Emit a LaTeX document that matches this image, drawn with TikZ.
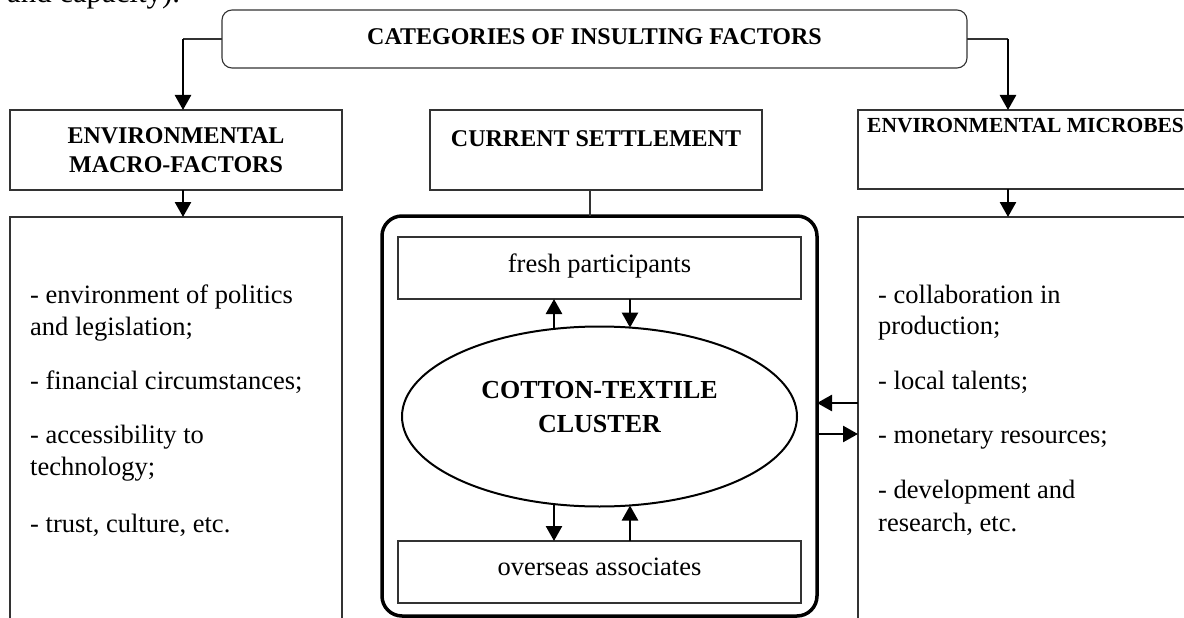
\documentclass[tikz,border=0pt]{standalone}
\usepackage{fontspec}
\setmainfont{Liberation Serif}
\usetikzlibrary{arrows.meta,shapes.geometric}
\begin{document}
\begin{tikzpicture}[x=1pt,y=-1pt,
  box/.style={draw=black!80,line width=1.1pt,inner sep=0pt,outer sep=0pt,rectangle},
  arr/.style={line width=2.6pt,-{Triangle[width=16pt,length=15pt]}},
  conn/.style={draw=black!80,line width=1.1pt},
  body/.style={font=\fontsize{26.5}{32}\selectfont,anchor=base west,inner sep=0pt},
  head/.style={font=\fontsize{24}{29}\selectfont\bfseries,anchor=base,inner sep=0pt},
  inner/.style={font=\fontsize{26.5}{32}\selectfont,anchor=base,inner sep=0pt},
  clhead/.style={font=\fontsize{26}{31}\selectfont\bfseries,anchor=base,inner sep=0pt},
]
\useasboundingbox (0,0) rectangle (1184,618);
\clip (0,0) rectangle (1184,618);

% cut-off line of running text above the figure
\node[font=\fontsize{30.8}{36}\selectfont,anchor=base west,inner sep=0pt] (prev) at (7,3) {and capacity).};

% top category box
\node[box,rounded corners=10pt,minimum width=745pt,minimum height=58pt] (top) at (594.5,39) {};
\node[head] (ttop) at (594.5,45) {CATEGORIES OF INSULTING FACTORS};

% second row
\node[box,minimum width=332pt,minimum height=80pt] (macro) at (176,150) {};
\node[head] (tmacro1) at (176,143) {ENVIRONMENTAL};
\node[head] (tmacro2) at (176,172) {MACRO-FACTORS};

\node[box,minimum width=332pt,minimum height=80pt] (settle) at (596,150) {};
\node[head] (tsettle) at (596,146) {CURRENT SETTLEMENT};

\node[box,minimum width=352pt,minimum height=79pt] (micro) at (1034,149.5) {};
\node[head,font=\fontsize{21.5}{26}\selectfont\bfseries,anchor=base west] (tmicro) at (867,132) {ENVIRONMENTAL MICROBES};

% lower list boxes
\node[box,minimum width=332pt,minimum height=423pt] (lbox) at (176,428.5) {};
\node[box,minimum width=352pt,minimum height=423pt] (rbox) at (1034,428.5) {};

\node[body] (l1a) at (30,303) {- environment of politics};
\node[body] (l1b) at (30,335) {and legislation;};
\node[body] (l2) at (30,389) {- financial circumstances;};
\node[body] (l3a) at (30,443) {- accessibility to};
\node[body] (l3b) at (30,475) {technology;};
\node[body] (l4) at (30,532) {- trust, culture, etc.};

\node[body] (r1a) at (878,303) {- collaboration in};
\node[body] (r1b) at (878,334) {production;};
\node[body] (r2) at (878,389) {- local talents;};
\node[body] (r3) at (878,443) {- monetary resources;};
\node[body] (r4a) at (878,498) {- development and};
\node[body] (r4b) at (878,531) {research, etc.};

% cluster frame
\node[draw=black,line width=3.5pt,rounded corners=20pt,inner sep=0pt,outer sep=0pt,
      minimum width=435pt,minimum height=400pt] (clbox) at (599.5,416) {};
\node[box,minimum width=403pt,minimum height=62pt] (fresh) at (599.5,268) {};
\node[inner] (tfresh) at (599.5,272) {fresh participants};
\node[box,minimum width=403pt,minimum height=62pt] (over) at (599.5,572) {};
\node[inner] (tover) at (599.5,575) {overseas associates};
\node[draw=black,line width=2pt,ellipse,inner sep=0pt,outer sep=0pt,
      minimum width=395pt,minimum height=180pt] (cl) at (599.5,416.5) {};
\node[clhead] (tcl1) at (599.5,398) {COTTON-TEXTILE};
\node[clhead] (tcl2) at (599.5,432) {CLUSTER};

% connectors
\coordinate (ja) at (183,0);
\coordinate (jb) at (1008,0);
\coordinate (jc) at (590,0);
\coordinate (xa) at (554,0);
\coordinate (xb) at (630,0);
\coordinate (ya) at (0,403);
\coordinate (yb) at (0,434);

\draw[conn] (top.west) -- (top.west -| ja);
\draw[arr] (top.west -| ja) -- (ja |- macro.north);
\draw[conn] (top.east) -- (top.east -| jb);
\draw[arr] (top.east -| jb) -- (jb |- micro.north);
\draw[arr] (ja |- macro.south) -- (ja |- lbox.north);
\draw[arr] (jb |- micro.south) -- (jb |- rbox.north);
\draw[conn] (jc |- settle.south) -- (jc |- clbox.north);

\draw[arr] (xa |- cl.117.5) -- (xa |- fresh.south);
\draw[arr] (xb |- fresh.south) -- (xb |- cl.71.1);
\draw[arr] (xa |- cl.242.5) -- (xa |- over.north);
\draw[arr] (xb |- over.north) -- (xb |- cl.288.9);

\draw[arr] (rbox.west |- ya) -- (clbox.east |- ya);
\draw[arr] (clbox.east |- yb) -- (rbox.west |- yb);
\end{tikzpicture}
\end{document}
